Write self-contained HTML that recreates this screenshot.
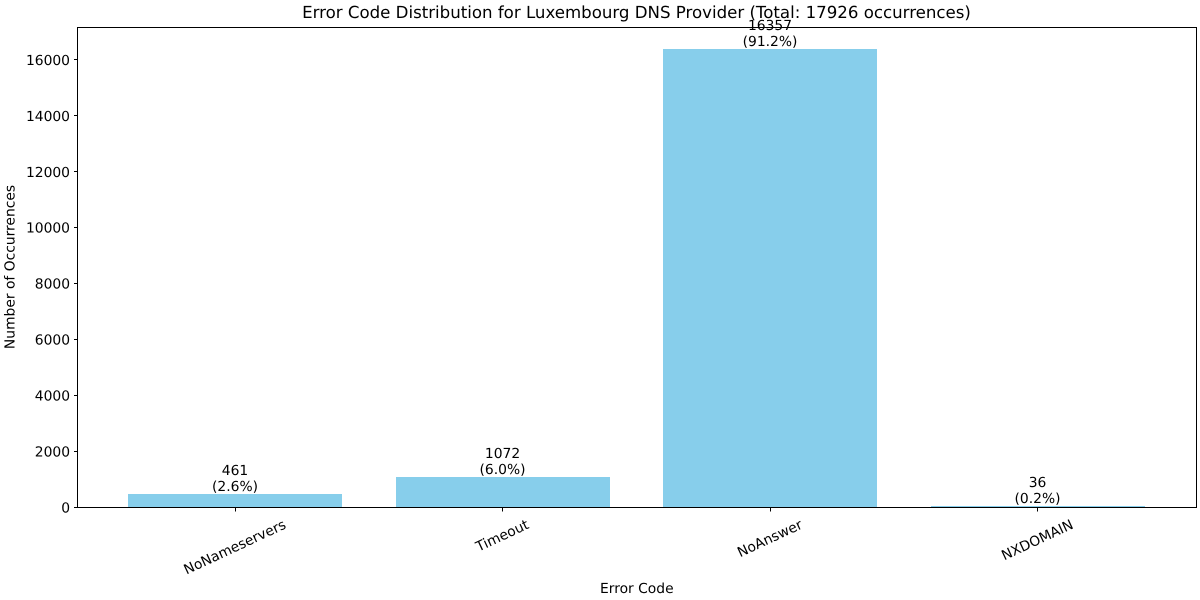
<!DOCTYPE html>
<html lang="en">
<head>
<meta charset="utf-8">
<title>Error Code Distribution</title>
<style>
html, body { margin: 0; padding: 0; background: #fff; }
svg { display: block; font-family: "DejaVu Sans", "Liberation Sans", sans-serif; fill: #000; text-rendering: geometricPrecision; }
</style>
</head>
<body>
<svg id="chart" xmlns="http://www.w3.org/2000/svg" width="1200" height="600" viewBox="0 0 1200 600">
  <rect x="0" y="0" width="1200" height="600" fill="#ffffff"></rect>
  <g id="bars"></g>
  <g id="ticks"></g>
  <g id="labels"></g>
  <rect x="77.5" y="27.5" width="1119" height="480" fill="none" stroke="#000" stroke-width="1"></rect>
  <text x="636.5" y="18" font-size="16.62" text-anchor="middle">Error Code Distribution for Luxembourg DNS Provider (Total: 17926 occurrences)</text>
  <text x="636.8" y="593" font-size="13.85" text-anchor="middle">Error Code</text>
  <text transform="translate(14.5 267) rotate(-90)" font-size="13.85" text-anchor="middle">Number of Occurrences</text>
</svg>
<script>
const categories = ["NoNameservers", "Timeout", "NoAnswer", "NXDOMAIN"];
const counts = [461, 1072, 16357, 36];
const percents = ["2.6", "6.0", "91.2", "0.2"];
const yTickValues = [0, 2000, 4000, 6000, 8000, 10000, 12000, 14000, 16000];

const NS = "http://www.w3.org/2000/svg";
const plot = { left: 77.5, right: 1195.65, top: 27, bottom: 507.5 };
const barWidth = 0.8;
const xMin = -0.4 - 0.05 * (categories.length - 1 + barWidth);
const xMax = categories.length - 1 + 0.4 + 0.05 * (categories.length - 1 + barWidth);
const yMax = Math.max(...counts) * 1.05;

function xScale(v) {
  return plot.left + (v - xMin) / (xMax - xMin) * (plot.right - plot.left);
}
function yScale(v) {
  return plot.bottom - v / yMax * (plot.bottom - plot.top);
}
function make(tag, attrs, parent) {
  const el = document.createElementNS(NS, tag);
  for (const k in attrs) el.setAttribute(k, attrs[k]);
  parent.appendChild(el);
  return el;
}

const barsG = document.getElementById("bars");
const ticksG = document.getElementById("ticks");
const labelsG = document.getElementById("labels");

yTickValues.forEach(function (v) {
  const y = Math.floor(yScale(v)) + 0.5;
  const tick = make("line", { x1: 74, x2: 77.5, y1: y, y2: y, stroke: "#000", "stroke-width": 1 }, ticksG);
  
  
  const label = make("text", { x: 70, y: yScale(v) + 5, "font-size": 13.85, "text-anchor": "end" }, ticksG);
  
  
  label.textContent = String(v);
});

categories.forEach(function (name, i) {
  const x0 = Math.round(xScale(i - barWidth / 2));
  const x1 = Math.round(xScale(i + barWidth / 2));
  const yTop = Math.floor(yScale(counts[i]));
  const bar = make("rect", { x: x0, y: yTop, width: x1 - x0, height: 507.5 - yTop, fill: "#87ceeb" }, barsG);
  
  

  const cx = xScale(i) - 0.3;
  const tx = Math.floor(cx) + 0.5;
  const tick = make("line", { x1: tx, x2: tx, y1: 507.5, y2: 511.5, stroke: "#000", "stroke-width": 1 }, ticksG);
  
  

  const label = make("text", { "font-size": 13.85, "text-anchor": "middle", "dominant-baseline": "central" }, ticksG);
  
  
  label.textContent = name;
  const w = label.getComputedTextLength();
  const angle = 25 * Math.PI / 180;
  const bboxH = w * Math.sin(angle) + 16 * Math.cos(angle);
  const cy = 517 + bboxH / 2;
  label.setAttribute("transform", "translate(" + cx + " " + cy + ") rotate(-25)");

  const top = make("text", { x: cx, y: yTop - 19, "font-size": 13.85, "text-anchor": "middle" }, labelsG);
  
  
  top.textContent = String(counts[i]);

  const pct = make("text", { x: cx, y: yTop - 3, "font-size": 13.85, "text-anchor": "middle" }, labelsG);
  
  
  pct.textContent = "(" + percents[i] + "%)";
});
</script>
</body>
</html>
